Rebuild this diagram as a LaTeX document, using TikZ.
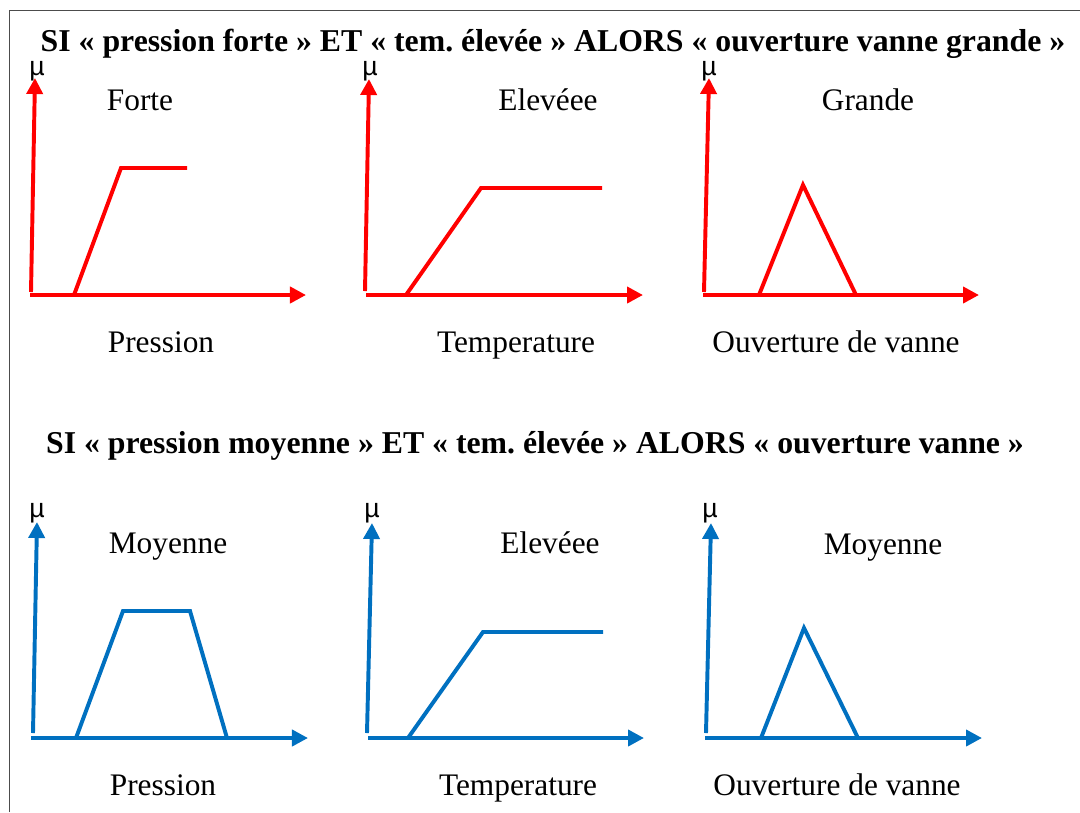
\documentclass[tikz,border=0pt]{standalone}
\usepackage{fontspec}
\setmainfont{Liberation Serif}
\newfontfamily\musans{Liberation Sans}
\usetikzlibrary{arrows.meta,positioning}
\definecolor{rulered}{RGB}{255,0,0}
\definecolor{ruleblue}{RGB}{0,112,192}
\frenchspacing

\begin{document}
\begin{tikzpicture}[
    x=0.025cm,y=-0.025cm,
    axis/.style={line width=2.8pt,-{Triangle[length=0.4cm,width=0.4cm]}},
    mf/.style={line width=2.8pt},
    mu/.style={font=\musans\fontsize{19}{19}\selectfont,inner sep=0pt,anchor=base},
    term/.style={font=\fontsize{22.3}{22.3}\selectfont,inner sep=0pt,anchor=base},
    rule/.style={font=\bfseries\fontsize{22.6}{22.6}\selectfont,inner sep=0pt,anchor=base}
]
    \useasboundingbox (0,0) rectangle (1080,812);
    \draw[line width=0.7pt,black!70] (9,812) -- (9,10) -- (1080,10);

    % Rule 1 — red
    \node[rule] (rule1) at (553,51) {SI « pression forte » ET « tem. élevée » ALORS « ouverture vanne grande »};

    % Pression forte
    \coordinate (p1o) at (31,292);
    \coordinate (p1y) at (35,78);
    \coordinate (p1x) at (306,295);
    \draw[axis,rulered] (p1o) -- (p1y);
    \draw[axis,rulered] (30,295) -- (p1x);
    \node[mu] (mu1) at (37,75) {µ};
    \node[term] (forte) at (140,110) {Forte};
    \node[term] (pres1) at (161,352) {Pression};
    \coordinate (f1) at (74,295);
    \coordinate (f2) at (121,168);
    \coordinate (f3) at (187,168);
    \draw[mf,rulered] (f1) -- (f2) -- (f3);

    % Temperature elevee
    \coordinate (p2o) at (365,291);
    \coordinate (p2y) at (369,79);
    \coordinate (p2x) at (643,295);
    \draw[axis,rulered] (p2o) -- (p2y);
    \draw[axis,rulered] (366,295) -- (p2x);
    \node[mu] (mu2) at (370,75) {µ};
    \node[term] (elev1) at (548,110) {Elevéee};
    \node[term] (temp1) at (516,352) {Temperature};
    \coordinate (e1) at (406,295);
    \coordinate (e2) at (481,188);
    \coordinate (e3) at (602,188);
    \draw[mf,rulered] (e1) -- (e2) -- (e3);

    % Ouverture grande
    \coordinate (p3o) at (704,292);
    \coordinate (p3y) at (709,78);
    \coordinate (p3x) at (979,295);
    \draw[axis,rulered] (p3o) -- (p3y);
    \draw[axis,rulered] (703,295) -- (p3x);
    \node[mu] (mu3) at (709,75) {µ};
    \node[term] (grande) at (868,110) {Grande};
    \node[term] (ouv1) at (836,352) {Ouverture de vanne};
    \coordinate (g1) at (759,295);
    \coordinate (g2) at (803,185);
    \coordinate (g3) at (856,295);
    \draw[mf,rulered] (g1) -- (g2) -- (g3);

    % Rule 2 — blue
    \node[rule] (rule2) at (535,453) {SI « pression moyenne » ET « tem. élevée » ALORS « ouverture vanne »};

    % Pression moyenne
    \coordinate (p4o) at (33,733);
    \coordinate (p4y) at (37,522);
    \coordinate (p4x) at (308,738);
    \draw[axis,ruleblue] (p4o) -- (p4y);
    \draw[axis,ruleblue] (31,738) -- (p4x);
    \node[mu] (mu4) at (37,517) {µ};
    \node[term] (moy1) at (168,553) {Moyenne};
    \node[term] (pres2) at (163,795) {Pression};
    \coordinate (m1) at (76,738);
    \coordinate (m2) at (123,611);
    \coordinate (m3) at (190,611);
    \coordinate (m4) at (227,738);
    \draw[mf,ruleblue] (m1) -- (m2) -- (m3) -- (m4);

    % Temperature elevee
    \coordinate (p5o) at (367,733);
    \coordinate (p5y) at (372,523);
    \coordinate (p5x) at (644,738);
    \draw[axis,ruleblue] (p5o) -- (p5y);
    \draw[axis,ruleblue] (368,738) -- (p5x);
    \node[mu] (mu5) at (372,517) {µ};
    \node[term] (elev2) at (550,553) {Elevéee};
    \node[term] (temp2) at (518,795) {Temperature};
    \coordinate (t1) at (408,738);
    \coordinate (t2) at (483,632);
    \coordinate (t3) at (603,632);
    \draw[mf,ruleblue] (t1) -- (t2) -- (t3);

    % Ouverture moyenne
    \coordinate (p6o) at (706,733);
    \coordinate (p6y) at (711,523);
    \coordinate (p6x) at (982,738);
    \draw[axis,ruleblue] (p6o) -- (p6y);
    \draw[axis,ruleblue] (705,738) -- (p6x);
    \node[mu] (mu6) at (710,517) {µ};
    \node[term] (moy2) at (883,554) {Moyenne};
    \node[term] (ouv2) at (837,795) {Ouverture de vanne};
    \coordinate (v1) at (761,738);
    \coordinate (v2) at (804,628);
    \coordinate (v3) at (858,738);
    \draw[mf,ruleblue] (v1) -- (v2) -- (v3);
\end{tikzpicture}
\end{document}
